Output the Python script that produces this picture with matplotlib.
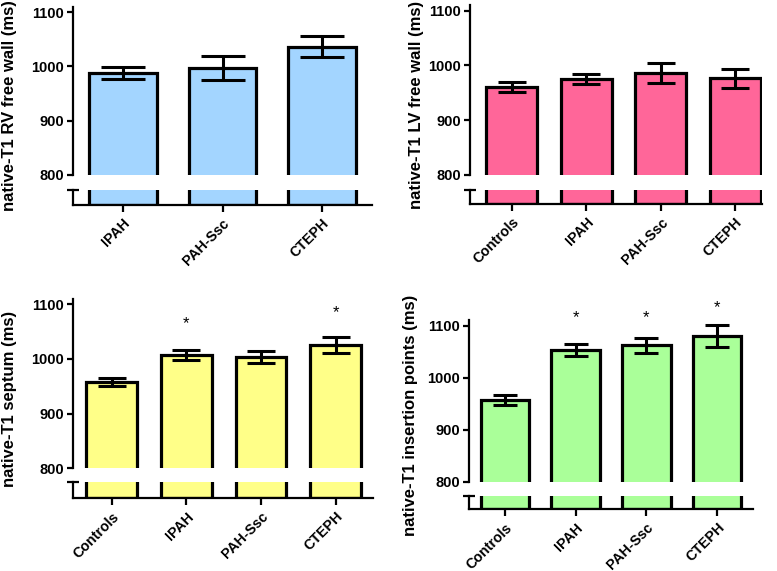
import matplotlib
matplotlib.use("Agg")
import matplotlib.pyplot as plt
import numpy as np

plt.rcParams["font.family"] = ["Liberation Sans", "DejaVu Sans"]

# data
rv_groups = ["IPAH", "PAH-Ssc", "CTEPH"]
rv_means = [988, 997, 1036]
rv_sem = [11, 22, 19]

lv_groups = ["Controls", "IPAH", "PAH-Ssc", "CTEPH"]
lv_means = [961, 975, 986, 976]
lv_sem = [9, 9.5, 19, 18]

sep_groups = ["Controls", "IPAH", "PAH-Ssc", "CTEPH"]
sep_means = [958, 1007, 1003, 1025]
sep_sem = [8, 8.5, 11, 14.5]
sep_stars = [None, 1065, None, 1085]

ins_groups = ["Controls", "IPAH", "PAH-Ssc", "CTEPH"]
ins_means = [957, 1054, 1062, 1080]
ins_sem = [9, 11.5, 15, 21]
ins_stars = [None, 1116, 1116, 1135]

W, H = 777, 571


def px_rect(left, right, top, bottom):
    return [left / W, 1 - bottom / H, (right - left) / W, (bottom - top) / H]


def panel(fig, box, groups, means, sem, color, ylabel, label_x, xlim,
          capsize, stars=None):
    left, right, ytop, y800, ltop, lbot = box
    ax = fig.add_axes(px_rect(left, right, ytop, y800))
    axl = fig.add_axes(px_rect(left, right, ltop, lbot))
    x = np.arange(len(groups))

    for a in (ax, axl):
        a.bar(x, means, width=0.68, color=color, edgecolor="black",
              linewidth=2.3, zorder=2)
        a.set_xlim(*xlim)
        for s in ("top", "right"):
            a.spines[s].set_visible(False)
        a.spines["left"].set_linewidth(1.6)
        a.spines["bottom"].set_linewidth(1.6)
        a.set_facecolor("none")

    ax.errorbar(x, means, yerr=sem, fmt="none", ecolor="black",
                elinewidth=2.2, capsize=capsize, capthick=2.2, zorder=3)
    ax.set_ylim(800, 1110)
    ax.spines["left"].set_bounds(800, 1110)
    ax.spines["bottom"].set_visible(False)
    ax.set_xticks([])
    ax.set_yticks([800, 900, 1000, 1100])
    ax.tick_params(axis="y", direction="out", length=4.5, width=1.6,
                   labelsize=10.5, pad=2)
    ax.set_yticks([800], minor=True)
    ax.tick_params(axis="y", which="minor", direction="in", length=4.5,
                   width=1.6)
    for t in ax.get_yticklabels():
        t.set_fontweight("bold")

    axl.set_ylim(0, 50)
    axl.set_yticks([50])
    axl.set_yticklabels([""])
    axl.tick_params(axis="y", direction="inout", length=9, width=1.6)
    axl.set_xticks(x)
    axl.set_xticklabels(groups, rotation=45, ha="right",
                        rotation_mode="anchor", fontweight="bold",
                        fontsize=10.3)
    axl.tick_params(axis="x", direction="out", length=5, width=1.6, pad=3)

    if stars:
        for xi, sy in zip(x, stars):
            if sy is not None:
                ax.text(xi, sy, "*", ha="center", va="center", fontsize=12,
                        clip_on=False)

    yc = 1 - ((ytop + lbot) / 2) / H
    fig.text(label_x / W, yc, ylabel, rotation=90, ha="center", va="center",
             fontsize=12, fontweight="bold")


fig = plt.figure(figsize=(W / 100, H / 100), dpi=100)

panel(fig, (73, 372, 6.6, 175, 190, 205), rv_groups, rv_means, rv_sem,
      "#A3D5FF", "native-T1 RV free wall (ms)", 10, (-0.5, 2.5), 15.5)
panel(fig, (470, 762, 5.2, 174.7, 190, 204), lv_groups, lv_means, lv_sem,
      "#FF6699", "native-T1 LV free wall (ms)", 416, (-0.56, 3.36), 10)
panel(fig, (72.7, 373, 298.8, 468.3, 482.3, 498.3), sep_groups, sep_means,
      sep_sem, "#FFFF88", "native-T1 septum (ms)", 10, (-0.52, 3.5), 10,
      stars=sep_stars)
panel(fig, (469.3, 752.7, 320.5, 481.7, 495.7, 509.3), ins_groups, ins_means,
      ins_sem, "#AAFF99", "native-T1 insertion points (ms)", 410,
      (-0.5, 3.5), 8.5, stars=ins_stars)

fig.savefig("out.png", dpi=100)
